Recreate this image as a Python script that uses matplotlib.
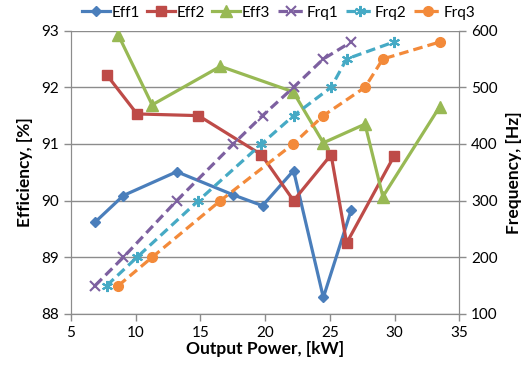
import numpy as np
import matplotlib
matplotlib.use('Agg')
import matplotlib.pyplot as plt

plt.rcParams['font.family'] = ['Lato', 'DejaVu Sans']

# power points [kW] for each converter
p1 = [6.86, 9.05, 13.17, 17.55, 19.8, 22.2, 24.5, 26.65]
p2 = [7.76, 10.1, 14.85, 19.72, 22.2, 25.1, 26.3, 29.95]
p3 = [8.66, 11.27, 16.55, 22.17, 24.5, 27.72, 29.1, 33.5]

eff1 = [89.62, 90.09, 90.51, 90.10, 89.91, 90.53, 88.29, 89.83]
eff2 = [92.22, 91.53, 91.50, 90.81, 90.00, 90.81, 89.25, 90.78]
eff3 = [92.92, 91.69, 92.37, 91.92, 91.02, 91.35, 90.07, 91.66]

frq1 = [150, 200, 300, 400, 450, 500, 550, 580]
frq2 = [150, 200, 300, 400, 450, 500, 550, 580]
frq3 = [150, 200, 300, 400, 450, 500, 550, 580]

c_blue = '#4A7EBB'
c_red = '#BE4B48'
c_green = '#98B954'
c_purple = '#7D60A0'
c_teal = '#46AAC5'
c_orange = '#F38A3A'
gcol = '#8C8C8C'

fig = plt.figure(figsize=(5.26, 3.65), dpi=100)
ax = fig.add_axes([0.135, 0.14, 0.738, 0.776])
ax2 = ax.twinx()

lw = 2.3
h1, = ax.plot(p1, eff1, color=c_blue, lw=lw, marker='D', ms=5, label='Eff1')
h2, = ax.plot(p2, eff2, color=c_red, lw=lw, marker='s', ms=7, label='Eff2')
h3, = ax.plot(p3, eff3, color=c_green, lw=lw, marker='^', ms=8, label='Eff3')
h4, = ax2.plot(p1, frq1, color=c_purple, lw=lw, ls=(0, (3, 1.6)), marker='x', ms=7, mew=1.5, label='Frq1')
h5, = ax2.plot(p2, frq2, color=c_teal, lw=lw, ls=(0, (3, 1.6)), marker=(6, 2, 0), ms=8, mew=1.5, label='Frq2')
h6, = ax2.plot(p3, frq3, color=c_orange, lw=lw, ls=(0, (3, 1.6)), marker='o', ms=7, label='Frq3')

ax.set_xlim(5, 35)
ax.set_ylim(88, 93)
ax2.set_ylim(100, 600)
ax.set_xticks(np.arange(5, 36, 5))
ax.set_yticks(np.arange(88, 93.1, 1))
ax2.set_yticks(np.arange(100, 601, 100))

ax.grid(axis='y', color=gcol, lw=1)
ax.set_axisbelow(True)
for a in (ax, ax2):
    for s in a.spines.values():
        s.set_color(gcol)
    a.tick_params(colors='black', labelsize=11, length=5, width=1, direction='out')
    a.tick_params(axis='both', color=gcol)
ax2.spines['top'].set_visible(False)
ax.spines['top'].set_visible(False)

ax.set_xlabel('Output Power, [kW]', fontsize=12.5, fontweight='bold', labelpad=1)
ax.set_ylabel('Efficiency, [%]', fontsize=12.5, fontweight='bold', labelpad=6)
ax2.set_ylabel('Frequency, [Hz]', fontsize=12.5, fontweight='bold', labelpad=6)

fig.legend(handles=[h1, h2, h3, h4, h5, h6], loc='center', bbox_to_anchor=(0.53, 0.965),
           ncol=6, frameon=False, fontsize=11, handlelength=1.8, handletextpad=0.1,
           columnspacing=0.5, borderaxespad=0)

fig.savefig('out.png', dpi=100)
